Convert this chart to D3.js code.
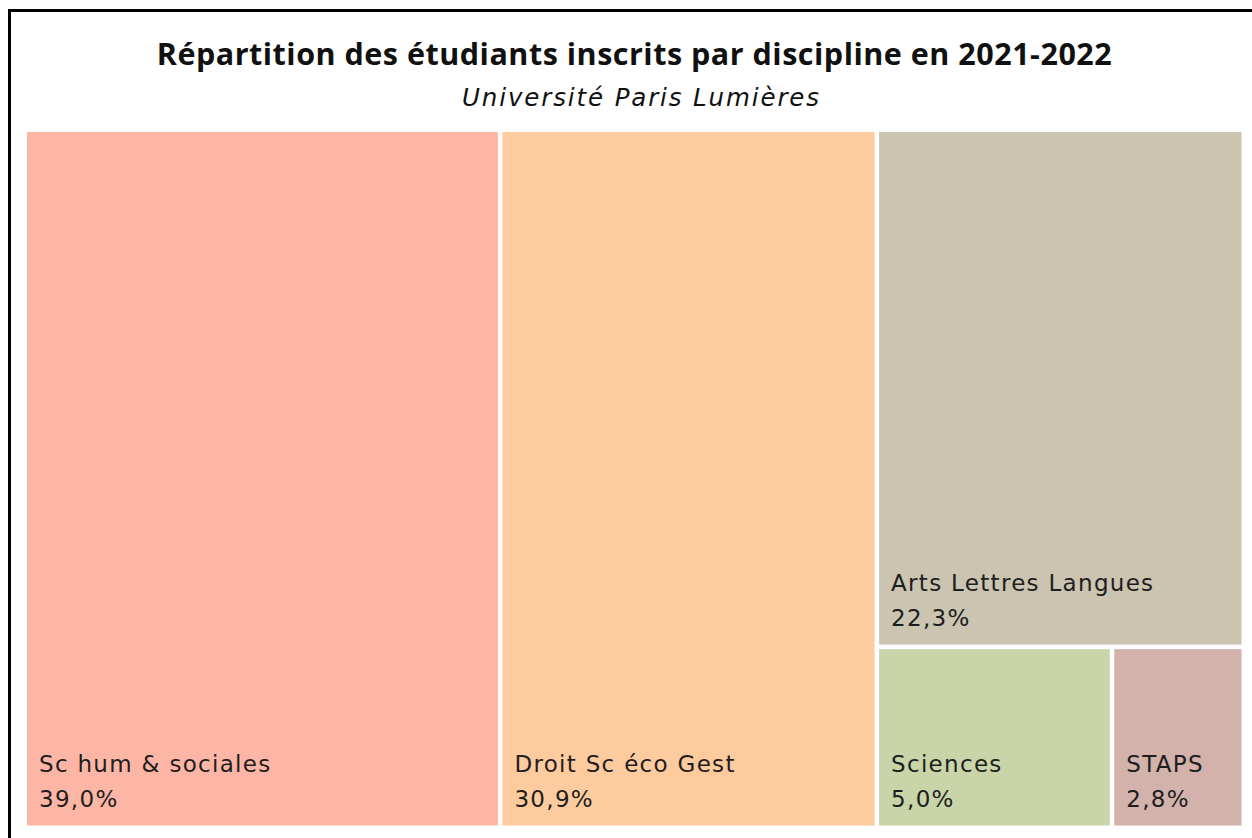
<!DOCTYPE html>
<html><head><meta charset="utf-8">
<script src="https://cdn.jsdelivr.net/npm/d3@7"></script>
<style>
html,body{margin:0;padding:0;background:#fff;}
svg{display:block;}
</style></head>
<body>
<svg id="chart" width="1252" height="838"></svg>
<script>
const categories = ["Sc hum & sociales","Droit Sc éco Gest","Arts Lettres Langues","Sciences","STAPS"];
const values = [39.0, 30.9, 22.3, 5.0, 2.8];
const valueLabels = ["39,0%","30,9%","22,3%","5,0%","2,8%"];
const colors = ["#FDB5A5","#FECB9F","#CAC4B0","#C9D5A8","#D2B2AA"];
const title = "Répartition des étudiants inscrits par discipline en 2021-2022";
const subtitle = "Université Paris Lumières";

const svg = d3.select("#chart");
const font = "'Open Sans', 'Noto Sans', sans-serif";
const font2 = "'DejaVu Sans', 'Open Sans', sans-serif";

// frame
svg.append("rect").attr("x",9.5).attr("y",10.5).attr("width",1400).attr("height",1000)
  .attr("fill","#fff").attr("stroke","#000").attr("stroke-width",3);

const area = {x0:27, y0:132, x1:1242, y1:826};

const root = d3.hierarchy({children: categories.map((c,i)=>({name:c, value:values[i], label:valueLabels[i], color:colors[i]}))})
  .sum(d=>d.value||0);

d3.treemap().tile(d3.treemapBinary)
  .size([area.x1-area.x0 + 4, area.y1-area.y0 + 4])(root);

const g = svg.append("g").attr("transform",`translate(${area.x0},${area.y0})`);
const gap = 4.5;
const labelSize = 23;
const leaves = g.selectAll("g.leaf").data(root.leaves()).join("g").attr("class","leaf");
leaves.append("rect")
  .attr("x",d=>d.x0).attr("y",d=>d.y0)
  .attr("width",d=>Math.max(0,d.x1-d.x0-gap)).attr("height",d=>Math.max(0,d.y1-d.y0-gap))
  .attr("fill",d=>d.data.color);
const t1 = leaves.append("text")
  .attr("x",d=>d.x0+12).attr("y",d=>d.y1-gap-54)
  .attr("font-family",font2).attr("font-size",labelSize).attr("fill","#1e1e1e")
  .text(d=>d.data.name);
const t2 = leaves.append("text")
  .attr("x",d=>d.x0+12).attr("y",d=>d.y1-gap-19)
  .attr("font-family",font2).attr("font-size",labelSize).attr("fill","#1e1e1e")
  .text(d=>d.data.label);

// match reference glyph widths (reference "Droit Sc éco Gest" ≈ 220px)
const ref = t1.filter(d=>d.data.name==="Droit Sc éco Gest").node();
const w = ref.getComputedTextLength();
const ls = (220 - w)/16;
t1.attr("letter-spacing",ls);
t2.attr("letter-spacing",ls);

function fitText(sel, target){
  const n = sel.text().length;
  const ww = sel.node().getComputedTextLength();
  sel.attr("letter-spacing", (target-ww)/(n-1));
}
const tt = svg.append("text").attr("x",634.5).attr("y",65).attr("text-anchor","middle")
  .attr("font-family",font).attr("font-weight","bold").attr("font-size",30.5).attr("fill","#111")
  .text(title);
fitText(tt, 955);
const st = svg.append("text").attr("x",641.5).attr("y",106).attr("text-anchor","middle")
  .attr("font-family",font2).attr("font-style","italic").attr("font-size",24.5).attr("fill","#111")
  .text(subtitle);
fitText(st, 357);
</script>
</body></html>
